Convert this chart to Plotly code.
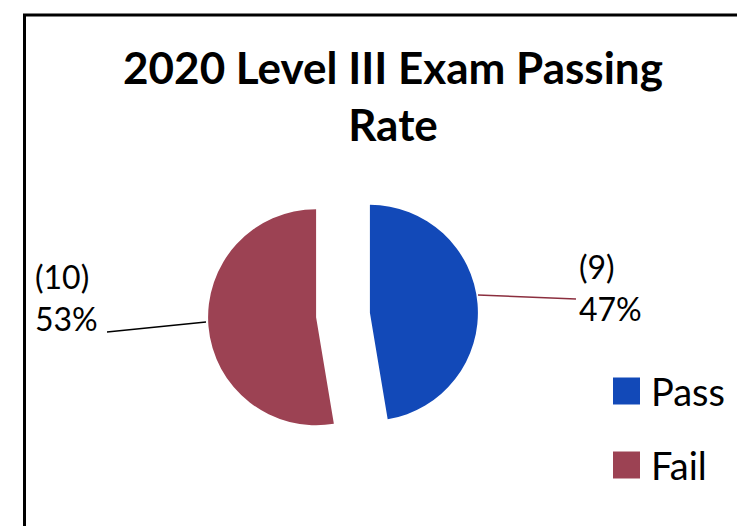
import plotly.graph_objects as go

# ---- data ----
categories = ["Pass", "Fail"]
counts = [9, 10]
colors = ["#1249B8", "#9C4253"]
title_text = "2020 Level III Exam Passing<br>Rate"

W, H = 745, 526
total = sum(counts)
percents = [round(100 * c / total) for c in counts]

def px(x):
    return x / W

def py(y):
    return 1 - y / H

fig = go.Figure()
fig.add_trace(go.Pie(
    labels=categories,
    values=counts,
    marker=dict(colors=colors, line=dict(width=0)),
    sort=False,
    direction="clockwise",
    rotation=0,
    pull=[0.25, 0.25],
    textinfo="none",
    hoverinfo="label+value+percent",
    showlegend=False,
    domain=dict(x=[px(335 - 135), px(335 + 135)], y=[py(307 + 135), py(307 - 135)]),
))

label_font = dict(family="Lato", size=32, color="black")
# data labels
label_pos = {"Pass": (569, 279), "Fail": (25, 289)}
for cat, c, p in zip(categories, counts, percents):
    lx, ly = label_pos[cat]
    fig.add_annotation(x=px(lx), y=py(ly), xref="paper", yref="paper",
                       xanchor="left", yanchor="middle", align="left",
                       text=f"({c})<br>{p}%", showarrow=False, font=label_font)

shapes = [
    # outer border
    dict(type="rect", xref="paper", yref="paper", x0=px(16.5), x1=1.1, y0=-0.1, y1=py(7),
         line=dict(color="black", width=3), fillcolor="rgba(0,0,0,0)"),
    # leader lines
    dict(type="line", xref="paper", yref="paper", x0=px(99), y0=py(324), x1=px(198), y1=py(314),
         line=dict(color="black", width=1.5)),
    dict(type="line", xref="paper", yref="paper", x0=px(470), y0=py(287), x1=px(568), y1=py(291),
         line=dict(color="#8B2E3E", width=1.5)),
]

# legend (manual, large squares)
legend_y = [383, 457]
for cat, col, ly in zip(categories, colors, legend_y):
    shapes.append(dict(type="rect", xref="paper", yref="paper",
                       x0=px(605), x1=px(632), y0=py(ly + 13.5), y1=py(ly - 13.5),
                       line=dict(width=0), fillcolor=col))
    fig.add_annotation(x=px(641), y=py(ly), xref="paper", yref="paper",
                       xanchor="left", yanchor="middle", text=cat, showarrow=False,
                       font=dict(family="Lato", size=38, color="black"))

fig.update_layout(
    width=W, height=H,
    margin=dict(l=0, r=0, t=0, b=0),
    paper_bgcolor="white", plot_bgcolor="white",
    title=dict(text=f"<b>{title_text}</b>", x=px(385), xanchor="center",
               y=py(76), yanchor="top", yref="container",
               font=dict(family="Lato", size=44, color="black")),
    shapes=shapes,
)

fig.write_html("out.html")
